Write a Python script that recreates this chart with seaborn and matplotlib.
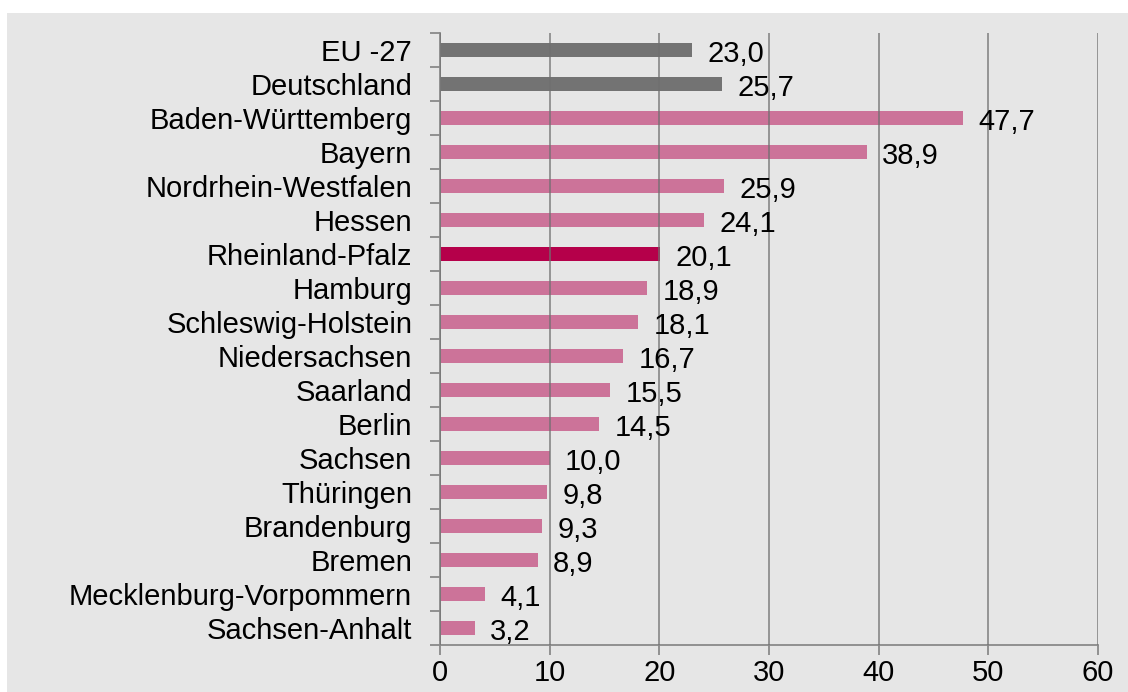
import matplotlib
matplotlib.use("Agg")
import matplotlib.pyplot as plt
import seaborn as sns
import pandas as pd
from matplotlib.patches import Rectangle

# values
regions = ["EU -27", "Deutschland", "Baden-Württemberg", "Bayern",
           "Nordrhein-Westfalen", "Hessen", "Rheinland-Pfalz", "Hamburg",
           "Schleswig-Holstein", "Niedersachsen", "Saarland", "Berlin",
           "Sachsen", "Thüringen", "Brandenburg", "Bremen",
           "Mecklenburg-Vorpommern", "Sachsen-Anhalt"]
values = [23.0, 25.7, 47.7, 38.9, 25.9, 24.1, 20.1, 18.9, 18.1, 16.7,
          15.5, 14.5, 10.0, 9.8, 9.3, 8.9, 4.1, 3.2]
x_ticks = [0, 10, 20, 30, 40, 50, 60]

GREY = "#737373"
PINK = "#cc7399"
HIGHLIGHT = "#b5004a"
BG = "#e6e6e6"
LINE = "#8a8a8a"
FS = 21

colors = {}
for r in regions:
    if r in ("EU -27", "Deutschland"):
        colors[r] = GREY
    elif r == "Rheinland-Pfalz":
        colors[r] = HIGHLIGHT
    else:
        colors[r] = PINK

df = pd.DataFrame({"region": regions, "value": values})

sns.set_theme(style="white")
plt.rcParams["font.family"] = ["Liberation Sans", "DejaVu Sans"]

W, H = 1128, 692
fig = plt.figure(figsize=(W / 100, H / 100), dpi=100, facecolor="white")
fig.patches.append(Rectangle((7 / W, 0), 1, 1 - 13 / H, transform=fig.transFigure,
                             facecolor=BG, edgecolor="none", zorder=-10))
ax = fig.add_axes([440 / W, 1 - 645 / H, (1098 - 440) / W, (645 - 33) / H])
ax.set_facecolor(BG)

sns.barplot(data=df, x="value", y="region", hue="region", palette=colors,
            orient="h", width=0.42, legend=False, saturation=1,
            linewidth=0, ax=ax)

ax.set_xlim(0, 60)
ax.set_ylim(len(regions) - 0.5, -0.5)
ax.set_xticks(x_ticks)
ax.set_xticklabels([str(t) for t in x_ticks], fontsize=FS)
ax.set_xlabel("")
ax.set_ylabel("")

# category labels without ticks, boundary ticks as minor ticks
ax.tick_params(axis="y", which="major", length=0, pad=20, labelsize=FS,
               labelcolor="black")
ax.set_yticks([i + 0.5 for i in range(-1, len(regions))], minor=True)
ax.tick_params(axis="y", which="minor", length=7, width=1.3, color=LINE, left=True)
ax.tick_params(axis="x", length=7, width=1.3, color=LINE, bottom=True,
               pad=3, labelcolor="black")

for s in ["top", "right"]:
    ax.spines[s].set_visible(False)
for s in ["left", "bottom"]:
    ax.spines[s].set_color(LINE)
    ax.spines[s].set_linewidth(1.3)

ax.set_axisbelow(False)
ax.grid(axis="x", color="#707070", linewidth=1.3, alpha=0.75)
ax.grid(axis="y", visible=False)

for i, v in enumerate(values):
    ax.annotate(f"{v:.1f}".replace(".", ","), xy=(v, i), xytext=(11, -3),
                textcoords="offset points", va="center", ha="left",
                fontsize=FS, color="black", zorder=5)

fig.savefig("out.png", dpi=100, facecolor="white")
